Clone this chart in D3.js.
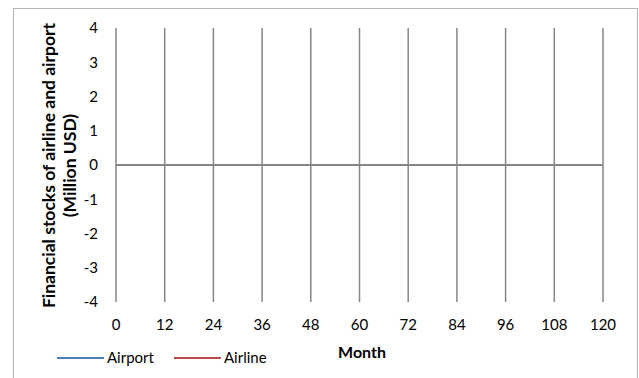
<!DOCTYPE html>
<html>
<head>
<meta charset="utf-8">
<script src="https://cdn.jsdelivr.net/npm/d3@7/dist/d3.min.js"></script>
<style>
  html, body { margin: 0; padding: 0; background: #fff; }
  svg { display: block; font-family: Lato, "Open Sans", sans-serif; }
</style>
</head>
<body>
<svg id="chart" width="639" height="378"></svg>
<script>
// Months along the x axis and the two series (flat at zero)
const months = [0, 12, 24, 36, 48, 60, 72, 84, 96, 108, 120];
const airport = [0, 0, 0, 0, 0, 0, 0, 0, 0, 0, 0];
const airline = [0, 0, 0, 0, 0, 0, 0, 0, 0, 0, 0];
const yTicks = [-4, -3, -2, -1, 0, 1, 2, 3, 4];
const seriesNames = ["Airport", "Airline"];
const seriesColors = ["#4a7ebb", "#be4b48"];

const svg = d3.select("#chart");
const gridColor = "#868686";

// chart frame
svg.append("rect")
  .attr("x", 13.5).attr("y", 8.5)
  .attr("width", 624).attr("height", 372)
  .attr("fill", "#fff").attr("stroke", "#b4b4b4").attr("stroke-width", 1);

const x = d3.scaleLinear().domain([0, 120]).range([116, 603]);
const y = d3.scaleLinear().domain([-4, 4]).range([302, 28]);

// vertical gridlines at each x tick
svg.append("g")
  .selectAll("line")
  .data(months)
  .join("line")
  .attr("x1", d => x(d)).attr("x2", d => x(d))
  .attr("y1", y(4)).attr("y2", y(-4))
  .attr("stroke", gridColor).attr("stroke-width", 1.5);

// series lines
const line = d3.line().x((d, i) => x(months[i])).y(d => y(d));
[airport, airline].forEach((vals, k) => {
  svg.append("path")
    .datum(vals)
    .attr("d", line)
    .attr("fill", "none")
    .attr("stroke", seriesColors[k])
    .attr("stroke-width", 1.5);
});

// horizontal axis line through zero
svg.append("line")
  .attr("x1", x(0)).attr("x2", x(120))
  .attr("y1", y(0)).attr("y2", y(0))
  .attr("stroke", gridColor).attr("stroke-width", 2);

// y tick labels
svg.append("g")
  .selectAll("text")
  .data(yTicks)
  .join("text")
  .attr("x", 98).attr("y", d => y(d))
  .attr("dy", "0.36em")
  .attr("text-anchor", "end")
  .attr("font-size", 15)
  .attr("fill", "#000")
  .text(d => d);

// x tick labels
svg.append("g")
  .selectAll("text")
  .data(months)
  .join("text")
  .attr("x", d => x(d)).attr("y", 330)
  .attr("text-anchor", "middle")
  .attr("font-size", 15)
  .attr("fill", "#000")
  .text(d => d);

// x axis title
svg.append("text")
  .attr("x", 362).attr("y", 358)
  .attr("text-anchor", "middle")
  .attr("font-size", 16).attr("font-weight", "bold")
  .text("Month");

// y axis title, two lines rotated
const yTitle = svg.append("text")
  .attr("transform", "translate(0,165.5) rotate(-90)")
  .attr("text-anchor", "middle")
  .attr("font-size", 17.5).attr("font-weight", "bold");
yTitle.append("tspan").attr("x", 0).attr("y", 55).text("Financial stocks of airline and airport");
yTitle.append("tspan").attr("x", 0).attr("y", 76).text("(Million USD)");

// legend
const legendX = [57, 174];
seriesNames.forEach((name, k) => {
  const g = svg.append("g");
  g.append("line")
    .attr("x1", legendX[k]).attr("x2", legendX[k] + 47)
    .attr("y1", 358).attr("y2", 358)
    .attr("stroke", seriesColors[k]).attr("stroke-width", 2);
  g.append("text")
    .attr("x", legendX[k] + 50).attr("y", 358)
    .attr("dy", "0.36em")
    .attr("font-size", 15)
    .text(name);
});
</script>
</body>
</html>
